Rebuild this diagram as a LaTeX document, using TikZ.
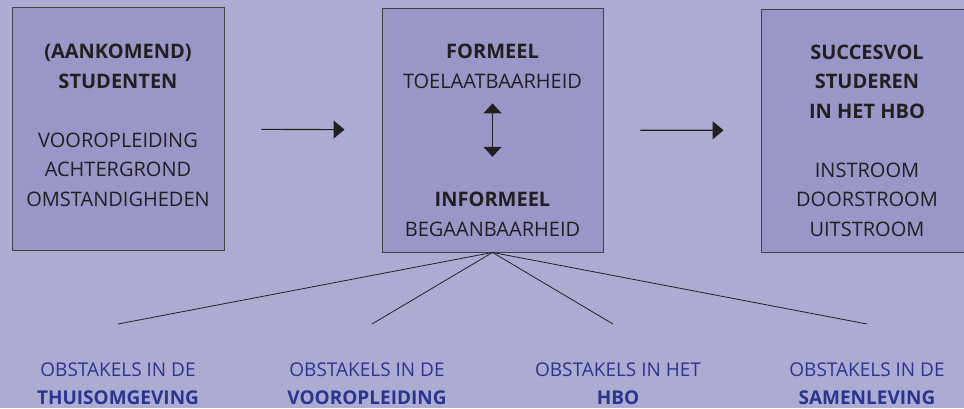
\documentclass[tikz,border=0pt]{standalone}
\usepackage{fontspec}
\setmainfont{Open Sans}
\usepackage{xcolor}
\usetikzlibrary{shapes, arrows.meta, positioning}
\definecolor{bgblue}{HTML}{ACACD2}
\definecolor{boxblue}{HTML}{9996C8}
\definecolor{inkblue}{HTML}{2B3590}
\definecolor{ink}{HTML}{231F20}

\begin{document}
\begin{tikzpicture}
  [
    x=1pt, y=-1pt,
    Box/.style={rectangle, draw=ink!85, fill=boxblue, line width=0.9pt, minimum width=212pt, minimum height=243pt, inner sep=0pt},
    Txt/.style={align=center, text=ink, font=\fontsize{20}{29.5}\selectfont, inner sep=0pt, anchor=base},
    Obst/.style={align=center, text=inkblue, font=\fontsize{19}{28}\selectfont, inner sep=0pt, anchor=base},
    Flow/.style={-{Triangle[length=11pt, width=18pt]}, draw=ink, line width=1.1pt, shorten <=37pt, shorten >=37pt},
    Spoke/.style={draw=ink, line width=0.8pt}
  ]
  % Background
  \fill[bgblue] (0,0) rectangle (964,408);
  \useasboundingbox (0,0) rectangle (964,408);
  \clip (0,0) rectangle (964,408);
  % Nodes
  \node[Box] (stud) at (118, 129) {};
  \node[Box, minimum width=221pt, minimum height=244pt] (form) at (492.5, 130) {};
  \node[Box] (succ) at (867, 130.5) {};
  \node[Txt] (studtxt) at (118, 206) {\textbf{(AANKOMEND)}\\\textbf{STUDENTEN}\\[29.5pt]VOOROPLEIDING\\ACHTERGROND\\OMSTANDIGHEDEN};
  \node[Txt] (formeel) at (492.5, 88) {\textbf{FORMEEL}\\TOELAATBAARHEID};
  \node[Txt] (informeel) at (492.5, 236) {\textbf{INFORMEEL}\\BEGAANBAARHEID};
  \node[Txt] (succtxt) at (867, 236) {\textbf{SUCCESVOL}\\\textbf{STUDEREN}\\\textbf{IN HET HBO}\\[29.5pt]INSTROOM\\DOORSTROOM\\UITSTROOM};
  \node[Obst] (thuis) at (118, 404) {OBSTAKELS IN DE\\\textbf{THUISOMGEVING}};
  \node[Obst] (voor) at (367, 404) {OBSTAKELS IN DE\\\textbf{VOOROPLEIDING}};
  \node[Obst] (hbo) at (618, 404) {OBSTAKELS IN HET\\\textbf{HBO}};
  \node[Obst] (samen) at (867, 404) {OBSTAKELS IN DE\\\textbf{SAMENLEVING}};
  \coordinate (c1) at (118, 324);
  \coordinate (c2) at (372, 324);
  \coordinate (c3) at (613, 324);
  \coordinate (c4) at (867, 324);
  % Lines
  \path [Flow] (stud) -- (form);
  \path [Flow] (form) -- (succ);
  \path [{Triangle[length=10pt, width=18pt]}-{Triangle[length=10pt, width=18pt]}, draw=ink, line width=1.4pt, shorten <=15pt, shorten >=35pt] (formeel.south) -- (informeel.north);
  \foreach \c in {c1, c2, c3, c4}
    \path [Spoke] (form.south) -- (\c);
\end{tikzpicture}
\end{document}
